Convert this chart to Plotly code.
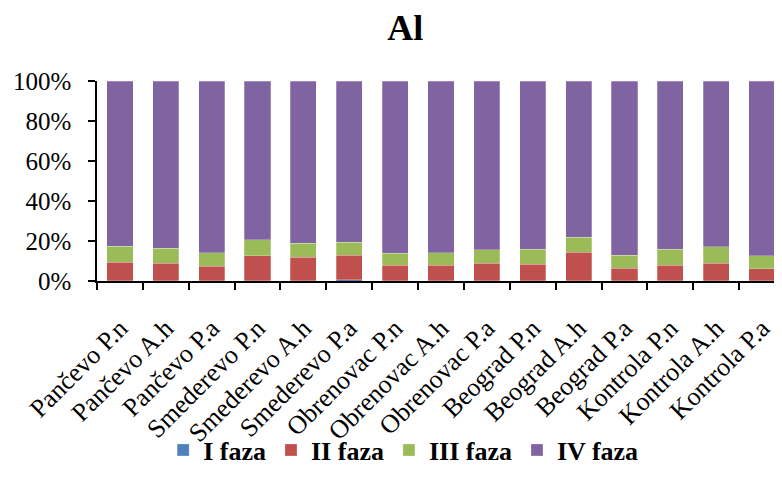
import plotly.graph_objects as go

categories = ["Pančevo P.n", "Pančevo A.h", "Pančevo P.a",
              "Smederevo P.n", "Smederevo A.h", "Smederevo P.a",
              "Obrenovac P.n", "Obrenovac A.h", "Obrenovac P.a",
              "Beograd P.n", "Beograd A.h", "Beograd P.a",
              "Kontrola P.n", "Kontrola A.h", "Kontrola P.a"]

faza_1 = [0.1, 0.1, 0.1, 0.1, 0.1, 0.6, 0.1, 0.1, 0.1, 0.1, 0.1, 0.1, 0.1, 0.1, 0.1]
faza_2 = [9.4, 8.9, 7.4, 12.6, 11.9, 12.4, 7.9, 7.9, 8.9, 8.4, 14.2, 6.4, 7.7, 8.7, 6.1]
faza_3 = [7.8, 7.3, 6.7, 8.0, 6.8, 6.3, 5.8, 6.2, 6.7, 7.3, 7.7, 6.3, 8.0, 8.4, 6.5]
faza_4 = [82.7, 83.7, 85.8, 79.3, 81.2, 80.7, 86.2, 85.8, 84.3, 84.2, 78.0, 87.2, 84.2, 82.8, 87.3]

series = [("I faza", faza_1, "#4F81BD"),
          ("II faza", faza_2, "#C0504D"),
          ("III faza", faza_3, "#9BBB59"),
          ("IV faza", faza_4, "#8064A2")]

FONT = "Liberation Serif, Times New Roman, serif"

fig = go.Figure()
for name, vals, color in series:
    fig.add_trace(go.Bar(
        x=categories, y=vals, name="<b>" + name + "</b>",
        marker=dict(color=color, line=dict(color="rgba(255,255,255,0.5)", width=0.5)),
        width=0.57,
    ))

# page body has an 8px margin, so everything is offset by that much
fig.update_layout(
    barmode="stack",
    barnorm="percent",
    width=782, height=487,
    paper_bgcolor="white", plot_bgcolor="white",
    font=dict(family=FONT, color="black", size=25),
    title=dict(text="<b>Al</b>", x=0.508, xanchor="center", y=0.960, yanchor="middle",
               font=dict(family=FONT, size=36, color="black")),
    margin=dict(l=89, r=5, t=73, b=214),
    showlegend=True,
    legend=dict(orientation="h", x=0.445, xanchor="center", y=-0.845, yanchor="middle",
                font=dict(family=FONT, size=26, color="black"),
                traceorder="normal", itemwidth=30, bgcolor="rgba(0,0,0,0)"),
)

fig.update_yaxes(range=[0, 100], tickvals=[0, 20, 40, 60, 80, 100],
                 ticktext=["0%", "20%", "40%", "60%", "80%", "100%"],
                 showline=True, linecolor="black", linewidth=1.5,
                 ticks="outside", ticklen=7, tickcolor="black", tickwidth=1.5,
                 showgrid=False, zeroline=False, automargin=False,
                 ticklabelstandoff=12, tickfont=dict(family=FONT, size=25))
fig.update_xaxes(range=[-0.5, 14.5], tickangle=-45,
                 showline=True, linecolor="black", linewidth=1.5,
                 ticks="outside", tickson="boundaries", ticklen=7,
                 tickcolor="black", tickwidth=1.5, showgrid=False, automargin=False,
                 ticklabelstandoff=20, tickfont=dict(family=FONT, size=26))

fig.write_html("out.html")
